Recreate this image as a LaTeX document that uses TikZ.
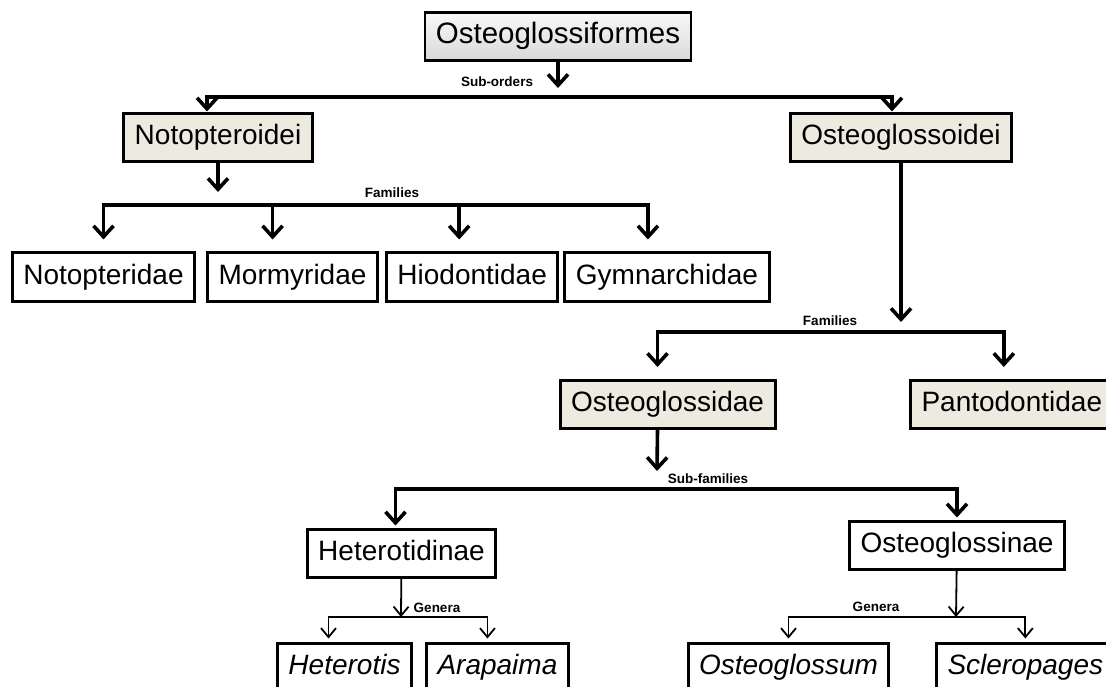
\documentclass[tikz,border=0pt]{standalone}
\usepackage{fontspec}
\setmainfont{Liberation Sans}
\usepackage{xcolor}
\usetikzlibrary{arrows.meta,positioning,calc}

\definecolor{paleclay}{HTML}{EDEAE0}

\begin{document}
\begin{tikzpicture}[x=1pt, y=-1pt,
    node distance=10pt,
    taxon/.style={rectangle, draw, line width=3pt, fill=white, inner xsep=11pt, inner ysep=0pt, minimum height=48pt, text height=20pt, text depth=6pt, font=\fontsize{28}{30}\selectfont},
    group/.style={taxon, fill=paleclay},
    genus/.style={taxon, font=\fontsize{28}{30}\selectfont\itshape},
    order/.style={taxon, line width=2.2pt, top color=gray!5, bottom color=gray!30, font=\fontsize{29.5}{32}\selectfont},
    link/.style={line width=3.6pt, -{Straight Barb[length=11pt, width=20pt]}},
    thinlink/.style={line width=1.8pt, -{Straight Barb[length=9pt, width=15pt]}},
    rank/.style={font=\bfseries\fontsize{13.5}{15}\selectfont, inner sep=0pt}]

    \useasboundingbox (0,0) rectangle (1106,687);
    \clip (0,0) rectangle (1106,687);

    % Order and sub-orders
    \node[order] (ogf) at (558,36.5) {Osteoglossiformes};
    \node[group] (nopt) at (218,138) {Notopteroidei};
    \node[group] (ogld) at (901,138) {Osteoglossoidei};
    \coordinate (ogf-tip) at (558,88);
    \coordinate (subord) at (558,97);
    \node[rank] (subord-lbl) at (497,82) {Sub-orders};
    \draw[link] (ogf) -- (ogf-tip);
    \draw[link, shorten >=1pt] (subord) -| ([xshift=-11pt]nopt.north);
    \draw[link, shorten >=1pt] (subord) -| ([xshift=-9pt]ogld.north);

    % Families of Notopteroidei
    \node[taxon] (notopteridae) at (103.5,277) {Notopteridae};
    \node[taxon, right=10pt of notopteridae] (mormyridae) {Mormyridae};
    \node[taxon, right=6pt of mormyridae] (hiodontidae) {Hiodontidae};
    \node[taxon, right=4pt of hiodontidae] (gymnarchidae) {Gymnarchidae};
    \coordinate (nopt-tip) at (218,192);
    \coordinate (famL) at (375,205);
    \node[rank] (famL-lbl) at (392,193) {Families};
    \draw[link] (nopt) -- (nopt-tip);
    \draw[link, shorten >=12pt] (famL) -| (notopteridae);
    \draw[link, shorten >=12pt] (famL) -| ([xshift=-20pt]mormyridae.north);
    \draw[link, shorten >=12pt] (famL) -| ([xshift=-13pt]hiodontidae.north);
    \draw[link, shorten >=12pt] (famL) -| ([xshift=-19pt]gymnarchidae.north);

    % Families of Osteoglossoidei
    \node[group] (osteoglossidae) at (667.5,404.5) {Osteoglossidae};
    \node[group, anchor=west] (pantodontidae) at (909,404.5) {Pantodontidae};
    \coordinate (ogld-tip) at (901,322);
    \coordinate (famR) at (830,332);
    \node[rank] (famR-lbl) at (830,321) {Families};
    \draw[link] (ogld) -- (ogld-tip);
    \draw[link, shorten >=12pt] (famR) -| ([xshift=-10pt]osteoglossidae.north);
    \draw[link, shorten >=12pt] (famR) -| ([xshift=-8pt]pantodontidae.north);

    % Sub-families
    \node[taxon] (heterotidinae) at (401.5,553) {Heterotidinae};
    \node[taxon] (osteoglossinae) at (957,545) {Osteoglossinae};
    \coordinate (ogd-tip) at (657,471);
    \coordinate (subfam) at (657,489);
    \node[rank] (subfam-lbl) at (708,479) {Sub-families};
    \draw[link] ([xshift=-10pt]osteoglossidae.south) -- (ogd-tip);
    \draw[link, shorten >=2pt] (subfam) -| ([xshift=-6pt]heterotidinae.north);
    \draw[link, shorten >=2pt] (subfam) -| (osteoglossinae);

    % Genera
    \node[genus] (heterotis) at (344.5,667) {Heterotis};
    \node[genus, right=12pt of heterotis] (arapaima) {Arapaima};
    \node[genus] (osteoglossum) at (788.5,667) {Osteoglossum};
    \node[genus, anchor=west] (scleropages) at (935,667) {Scleropages};
    \coordinate (genL) at (401,617);
    \coordinate (genR) at (956,617);
    \node[rank] (genL-lbl) at (437,608) {Genera};
    \node[rank] (genR-lbl) at (876,607) {Genera};
    \draw[thinlink] (heterotidinae) -- (genL);
    \draw[thinlink, shorten >=3pt] (genL) -| ([xshift=-16pt]heterotis.north);
    \draw[thinlink, shorten >=3pt] (genL) -| ([xshift=-10pt]arapaima.north);
    \draw[thinlink] (osteoglossinae) -- (genR);
    \draw[thinlink, shorten >=3pt] (genR) -| (osteoglossum);
    \draw[thinlink, shorten >=3pt] (genR) -| (scleropages);
\end{tikzpicture}
\end{document}
